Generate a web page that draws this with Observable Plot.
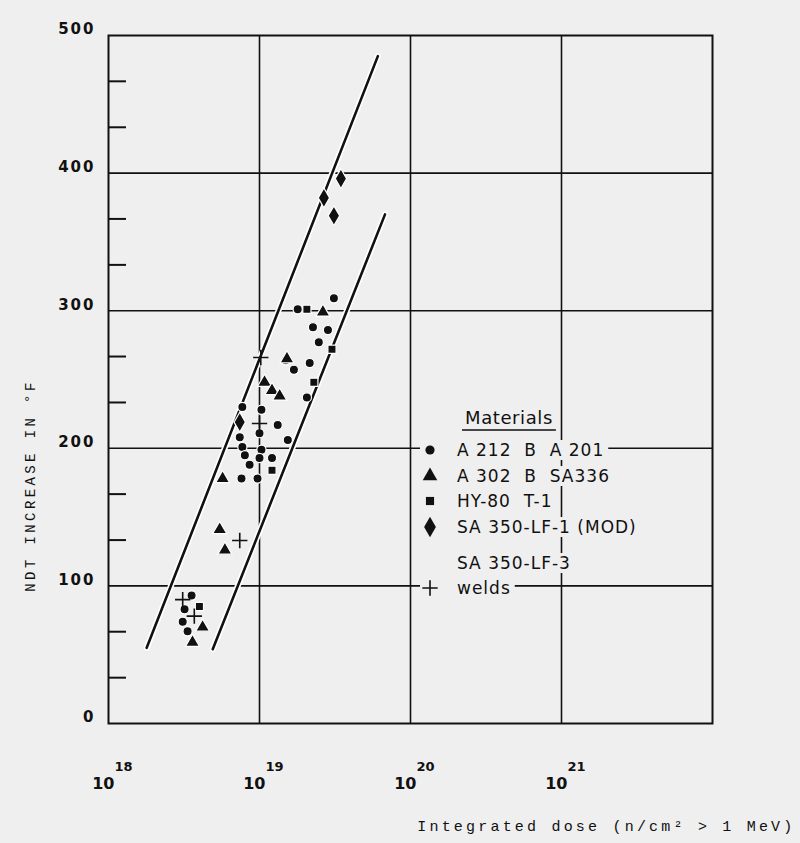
<!DOCTYPE html>
<html>
<head>
<meta charset="utf-8">
<script src="https://cdn.jsdelivr.net/npm/d3@7"></script>
<script src="https://cdn.jsdelivr.net/npm/@observablehq/plot@0.6"></script>
<style>
  html, body { margin: 0; padding: 0; background: #efefef; }
  #chart svg { display: block; }
</style>
</head>
<body>
<div id="chart"></div>
<script>
// ---- data (dose in n/cm², NDT increase in °F) ----
const circles = [
  [3.11e19, 309], [1.79e19, 301], [2.26e19, 288], [2.84e19, 286], [2.47e19, 277],
  [1.49e19, 264], [1.69e19, 257], [2.15e19, 262], [2.06e19, 237], [7.7e18, 230],
  [1.03e19, 228], [1.32e19, 217], [1.0e19, 211], [7.4e18, 208], [7.7e18, 201],
  [8.0e18, 195], [1.54e19, 206], [1.03e19, 199], [1.0e19, 193], [1.21e19, 193],
  [8.6e18, 188], [7.6e18, 178], [9.7e18, 178], [3.55e18, 93], [3.19e18, 83],
  [3.10e18, 74], [3.34e18, 67]
];
const triangles = [
  [2.63e19, 299], [1.52e19, 265], [1.08e19, 248], [1.21e19, 242], [1.36e19, 238],
  [5.7e18, 178], [5.45e18, 141], [5.9e18, 126], [4.2e18, 70], [3.6e18, 59]
];
const squares = [
  [2.06e19, 301], [3.02e19, 272], [2.29e19, 248], [1.21e19, 184], [4.0e18, 85]
];
const diamonds = [
  [3.46e19, 396], [2.67e19, 382], [3.11e19, 369], [7.4e18, 219]
];
const welds = [
  [1.02e19, 266], [1.0e19, 218], [7.4e18, 133], [3.1e18, 90], [3.7e18, 78]
];
const upperBand = [[1.79e18, 55], [6.08e19, 485]];
const lowerBand = [[4.9e18, 54], [6.78e19, 370]];

const xTicks = [1e18, 1e19, 1e20, 1e21];
const xTickBase = ["10", "10", "10", "10"];
const xTickExp = ["18", "19", "20", "21"];
const xGrid = [1e19, 1e20, 1e21];
const yTicks = [0, 100, 200, 300, 400, 500];
const yGrid = [100, 200, 300, 400];
const yMinor = [33.3, 66.7, 133.3, 166.7, 233.3, 266.7, 333.3, 366.7, 433.3, 466.7];

const xTitle = "Integrated dose (n/cm² > 1 MeV)";
const yTitle = "NDT INCREASE IN °F";
const legendTitle = "Materials";
const legendLabels = ["A 212  B  A 201", "A 302  B  SA336", "HY-80  T-1", "SA 350-LF-1 (MOD)", "SA 350-LF-3", "welds"];
const legendSymbols = ["circle", "triangle", "square", "diamond", null, "plus"];

const BG = "#efefef";
const INK = "#111";
const toObj = arr => arr.map(([dose, ndt]) => ({dose, ndt}));

const dotStyle = {x: "dose", y: "ndt", fill: INK, stroke: "#fff", strokeWidth: 1.2};

const chart = Plot.plot({
  width: 800,
  height: 843,
  marginLeft: 108,
  marginRight: 88,
  marginTop: 35,
  marginBottom: 120,
  style: {background: BG, fontFamily: "DejaVu Sans, sans-serif", color: INK},
  x: {type: "log", domain: [1e18, 1e22], axis: null},
  y: {domain: [0, 500], axis: null},
  marks: [
    Plot.gridX(xGrid, {stroke: INK, strokeOpacity: 1, strokeWidth: 1.6}),
    Plot.gridY(yGrid, {stroke: INK, strokeOpacity: 1, strokeWidth: 1.6}),
    Plot.frame({stroke: INK, strokeWidth: 2}),
    Plot.axisY({ticks: yMinor, anchor: "left", tickSize: -18, tickFormat: () => "", strokeWidth: 2, label: null}),
    Plot.axisY({ticks: yTicks, anchor: "left", tickSize: 0, tickPadding: 13, dy: -6, label: null,
      fontSize: 15, fontWeight: "bold", fontFamily: "DejaVu Sans, sans-serif"}),
    Plot.text(xTicks, {x: d => d, text: (d, i) => xTickBase[i], frameAnchor: "bottom", textAnchor: "end",
      lineAnchor: "middle", dx: 6, dy: 60, fontSize: 16, fontWeight: "bold", fontFamily: "DejaVu Sans, sans-serif"}),
    Plot.text(xTicks, {x: d => d, text: (d, i) => xTickExp[i], frameAnchor: "bottom", textAnchor: "start",
      lineAnchor: "middle", dx: 6, dy: 43, fontSize: 13, fontWeight: "bold", fontFamily: "DejaVu Sans, sans-serif"}),
    Plot.text([xTitle], {frameAnchor: "bottom-right", textAnchor: "end", lineAnchor: "middle",
      dx: 83, dy: 103, fontSize: 15, fontFamily: "Liberation Mono, monospace"}),
    Plot.text([yTitle], {frameAnchor: "left", rotate: -90, textAnchor: "middle", lineAnchor: "middle",
      dx: -78, dy: 106, fontSize: 14, fontFamily: "Liberation Mono, monospace"}),
    Plot.line(upperBand, {x: d => d[0], y: d => d[1], stroke: "#fff", strokeWidth: 6}),
    Plot.line(lowerBand, {x: d => d[0], y: d => d[1], stroke: "#fff", strokeWidth: 6}),
    Plot.line(upperBand, {x: d => d[0], y: d => d[1], stroke: INK, strokeWidth: 2.6}),
    Plot.line(lowerBand, {x: d => d[0], y: d => d[1], stroke: INK, strokeWidth: 2.6}),
    Plot.dot(toObj(circles), {...dotStyle, symbol: "circle", r: 4.6}),
    Plot.dot(toObj(triangles), {...dotStyle, symbol: "triangle", r: 5.2}),
    Plot.dot(toObj(squares), {...dotStyle, symbol: "square", r: 4.6}),
    Plot.dot(toObj(diamonds), {...dotStyle, symbol: "diamond", r: 6}),
    Plot.dot(toObj(welds), {x: "dose", y: "ndt", symbol: "plus", r: 5, stroke: INK, strokeWidth: 1.6, fill: "none"})
  ]
});

document.getElementById("chart").appendChild(chart);
const svg = d3.select(chart);

// letter spacing for typewriter labels
svg.selectAll("text").filter(function() { return this.textContent === xTitle; })
  .style("letter-spacing", "3.2px");
svg.selectAll("text").filter(function() { return this.textContent === yTitle; })
  .style("letter-spacing", "3.4px");
svg.selectAll("text").filter(function() { return /^\d00$|^0$/.test(this.textContent); })
  .style("letter-spacing", "2px");

// ---- legend ----
const lg = svg.append("g").attr("font-family", "DejaVu Sans, sans-serif").attr("fill", INK)
  .attr("text-anchor", "start");
const symX = 430, textX = 457;
const rowY = [450, 476, 501, 527, 563, 588];
const symMap = {circle: d3.symbolCircle, triangle: d3.symbolTriangle, square: d3.symbolSquare, diamond: d3.symbolDiamond, plus: d3.symbolPlus};
const symR = {circle: 4.6, triangle: 5.4, square: 4.6, diamond: 6.2, plus: 5};

const tTitle = lg.append("text").attr("x", 465).attr("y", 418).attr("dy", "0.35em")
  .attr("text-anchor", "start").attr("font-size", 18).style("letter-spacing", "0.6px").text(legendTitle);
const tw = tTitle.node().getComputedTextLength();
lg.append("line").attr("x1", 462).attr("x2", 465 + tw + 3).attr("y1", 430).attr("y2", 430)
  .attr("stroke", INK).attr("stroke-width", 1.6);

legendLabels.forEach((lab, i) => {
  const bgRect = lg.append("rect");
  const t = lg.append("text").attr("x", textX).attr("y", rowY[i]).attr("dy", "0.36em")
    .attr("text-anchor", "start").attr("font-size", 17).style("letter-spacing", "1px").text(lab);
  const w = t.node().getComputedTextLength();
  bgRect.attr("x", symX - 10).attr("y", rowY[i] - 10).attr("width", textX - symX + 10 + w + 4)
    .attr("height", 20).attr("fill", BG);
  const s = legendSymbols[i];
  if (s) {
    const r = symR[s];
    const p = d3.symbol(symMap[s], Math.PI * r * r)();
    const path = lg.append("path").attr("d", p).attr("transform", `translate(${symX},${rowY[i]})`);
    if (s === "plus") path.attr("fill", "none").attr("stroke", INK).attr("stroke-width", 1.6);
    else path.attr("fill", INK);
  }
  t.raise();
});
</script>
</body>
</html>
